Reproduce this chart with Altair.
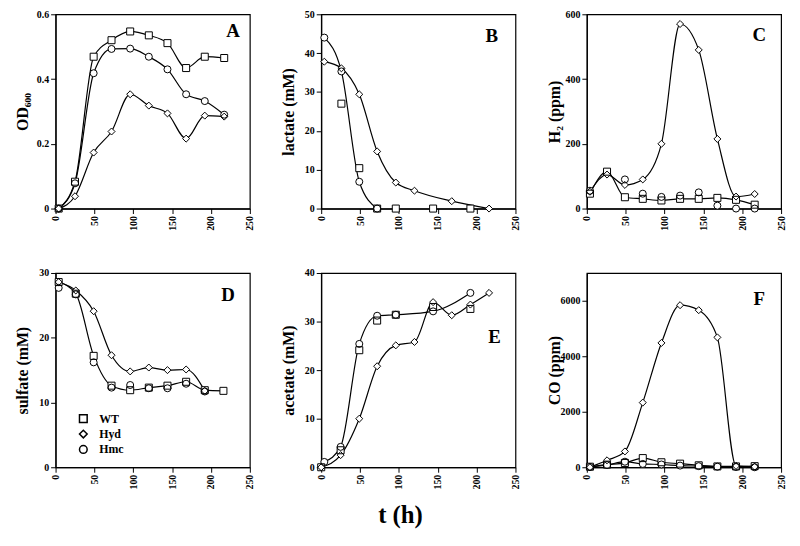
import altair as alt
import pandas as pd

SERIES = ["WT", "Hyd", "Hmc"]
SHAPES = ["square", "diamond", "circle"]
X_TICKS = [0, 50, 100, 150, 200, 250]

# ---- Panel A: OD600
a_t = [4, 25, 49, 72, 96, 120, 144, 168, 192, 217]
a_wt = [0, 0.083, 0.469, 0.52, 0.547, 0.535, 0.511, 0.434, 0.469, 0.465]
a_hyd = [0, 0.038, 0.173, 0.238, 0.353, 0.318, 0.294, 0.216, 0.287, 0.284]
a_hmc = [0, 0.078, 0.418, 0.493, 0.494, 0.469, 0.43, 0.353, 0.332, 0.29]

# ---- Panel B: lactate (mM)
b_wt_t = [26, 49, 72, 96, 144, 192]
b_wt = [27, 10.4, 0, 0, 0, 0]
b_hyd_t = [4, 26, 49, 72, 96, 120, 168, 216]
b_hyd = [37.8, 36.1, 29.4, 14.7, 6.7, 4.6, 1.9, 0]
b_hmc_t = [4, 26, 49, 72]
b_hmc = [44, 35.3, 6.9, 0]

# ---- Panel C: H2 (ppm)
c_t = [4, 26, 49, 72, 96, 120, 144, 168, 192, 216]
c_wt = [46, 114, 35, 30, 25, 30, 30, 33, 27, 12]
c_hyd = [52, 105, 73, 90, 200, 570, 490, 215, 37, 45]
c_hmc_t = [4, 49, 72, 96, 120, 144, 168, 192, 216]
c_hmc = [55, 90, 46, 36, 40, 50, 9, 0, 0]

# ---- Panel D: sulfate (mM)
d_t = [4, 26, 49, 72, 96, 120, 144, 168, 192, 216]
d_wt = [28.6, 26.8, 17.2, 12.6, 11.9, 12.3, 12.6, 13.2, 11.9, 11.8]
d_hyd_t = [4, 26, 49, 72, 96, 120, 144, 168, 192]
d_hyd = [28.6, 27.3, 24.1, 17.3, 14.8, 15.4, 15.0, 15.1, 11.8]
d_hmc_t = [4, 26, 49, 72, 96, 120, 144, 168, 192]
d_hmc = [27.7, 26.7, 16.2, 12.3, 12.7, 12.2, 12.2, 12.9, 11.7]

# ---- Panel E: acetate (mM)
e_wt_t = [0, 25, 49, 72, 96, 144, 192]
e_wt = [0, 3.5, 24.1, 30.2, 31.4, 33.0, 32.6]
e_hyd_t = [0, 25, 49, 72, 96, 120, 144, 168, 192, 216]
e_hyd = [0, 2.5, 10, 20.8, 25.1, 25.8, 34.0, 31.3, 33.5, 35.9]
e_hmc_t = [4, 25, 49, 72, 96, 144, 192]
e_hmc = [1.1, 4.2, 25.4, 31.2, 31.4, 32.1, 35.9]

# ---- Panel F: CO (ppm)
f_t = [4, 26, 49, 72, 96, 120, 144, 168, 192, 216]
f_wt = [20, 95, 155, 330, 180, 130, 70, 30, 30, 40]
f_hyd = [0, 250, 570, 2330, 4480, 5840, 5660, 4680, 50, 20]
f_hmc = [10, 80, 200, 120, 100, 60, 40, 20, 10, 0]

FONT = "Liberation Serif"
W, H = 196, 196


def make_df(series_data):
    rows = []
    for name, (ts, vs) in series_data.items():
        for t, v in zip(ts, vs):
            rows.append({"series": name, "t": t, "v": v})
    return pd.DataFrame(rows)


def panel(series_data, ytitle, ydom, yvals, yfmt, letter, lx, ly, line_series, legend=False):
    df = make_df(series_data)
    x = alt.X("t:Q", scale=alt.Scale(domain=[0, 250], nice=False),
              axis=alt.Axis(values=X_TICKS, labelAngle=270, title=None, format="d"))
    y = alt.Y("v:Q", scale=alt.Scale(domain=ydom, nice=False),
              axis=alt.Axis(values=yvals, title=ytitle, format=yfmt,
                            titleX=-33, titleY=H / 2, titleAlign="center",
                            titleBaseline="middle", titleAngle=270))
    if legend:
        leg = alt.Legend(orient="none", legendX=22, legendY=141, title=None,
                         labelFont=FONT, labelFontWeight="bold", labelFontSize=12,
                         labelColor="black", symbolSize=60, rowPadding=1.5,
                         labelOffset=10, padding=0)
    else:
        leg = None
    scale = alt.Scale(domain=SERIES, range=SHAPES)

    base = alt.Chart(df)
    lines = base.transform_filter(
        alt.FieldOneOfPredicate(field="series", oneOf=line_series)
    ).mark_line(interpolate="monotone", color="black", strokeWidth=1.2).encode(
        x=x, y=y, detail="series:N")
    layers = [lines]
    # white interiors so the curves do not show through the open symbols
    for s, shp in zip(SERIES, SHAPES):
        layers.append(base.transform_filter(alt.datum.series == s).mark_point(
            shape=shp, filled=True, color="white", size=50, opacity=1).encode(x=x, y=y))
    pts = base.mark_point(color="black", strokeWidth=1, size=50, opacity=1).encode(
        x=x, y=y, shape=alt.Shape("series:N", scale=scale, legend=leg))
    txt = alt.Chart(pd.DataFrame({"label": [letter]})).mark_text(
        font=FONT, fontWeight="bold", fontSize=19, color="black",
        align="center", baseline="middle").encode(
        text="label:N", x=alt.value(lx), y=alt.value(ly))
    layers += [pts, txt]
    return alt.layer(*layers).properties(width=W, height=H)


pA = panel({"WT": (a_t, a_wt), "Hyd": (a_t, a_hyd), "Hmc": (a_t, a_hmc)},
           "OD₆₀₀", [0, 0.6], [0, 0.2, 0.4, 0.6], "~g", "A", 179, 17,
           ["WT", "Hyd", "Hmc"])
pB = panel({"WT": (b_wt_t, b_wt), "Hyd": (b_hyd_t, b_hyd), "Hmc": (b_hmc_t, b_hmc)},
           "lactate (mM)", [0, 50], [0, 10, 20, 30, 40, 50], "d", "B", 172, 22,
           ["Hyd", "Hmc"])
pC = panel({"WT": (c_t, c_wt), "Hyd": (c_t, c_hyd), "Hmc": (c_hmc_t, c_hmc)},
           "H₂ (ppm)", [0, 600], [0, 200, 400, 600], "d", "C", 174, 21,
           ["WT", "Hyd"])
pD = panel({"WT": (d_t, d_wt), "Hyd": (d_hyd_t, d_hyd), "Hmc": (d_hmc_t, d_hmc)},
           "sulfate (mM)", [0, 30], [0, 10, 20, 30], "d", "D", 174, 22,
           ["WT", "Hyd"], legend=True)
pE = panel({"WT": (e_wt_t, e_wt), "Hyd": (e_hyd_t, e_hyd), "Hmc": (e_hmc_t, e_hmc)},
           "acetate (mM)", [0, 40], [0, 10, 20, 30, 40], "d", "E", 175, 65,
           ["Hyd", "Hmc"])
pF = panel({"WT": (f_t, f_wt), "Hyd": (f_t, f_hyd), "Hmc": (f_t, f_hmc)},
           "CO (ppm)", [0, 7000], [0, 2000, 4000, 6000], "d", "F", 174, 26,
           ["WT", "Hyd", "Hmc"])

chart = alt.concat(
    pA, pB, pC, pD, pE, pF, columns=3,
    spacing={"row": 65, "column": 72}, bounds="flush",
).resolve_scale(shape="independent").properties(
    title=alt.TitleParams("t (h)", orient="bottom", anchor="middle", font=FONT,
                          fontWeight="bold", fontSize=25, color="black", offset=14),
    padding={"left": 6, "top": -2, "right": 5, "bottom": 5},
    background="white",
).configure_view(
    stroke="black", strokeWidth=1.2
).configure_axis(
    domainColor="black", domainWidth=1.2, tickColor="black", tickWidth=1,
    tickSize=5, grid=False, labelFont=FONT, labelFontWeight="bold",
    labelFontSize=10, labelColor="black", titleFont=FONT,
    titleFontWeight="bold", titleFontSize=16, titleColor="black",
    labelPadding=2,
)

chart.save("out.html", embed_options={"renderer": "svg", "actions": False})
